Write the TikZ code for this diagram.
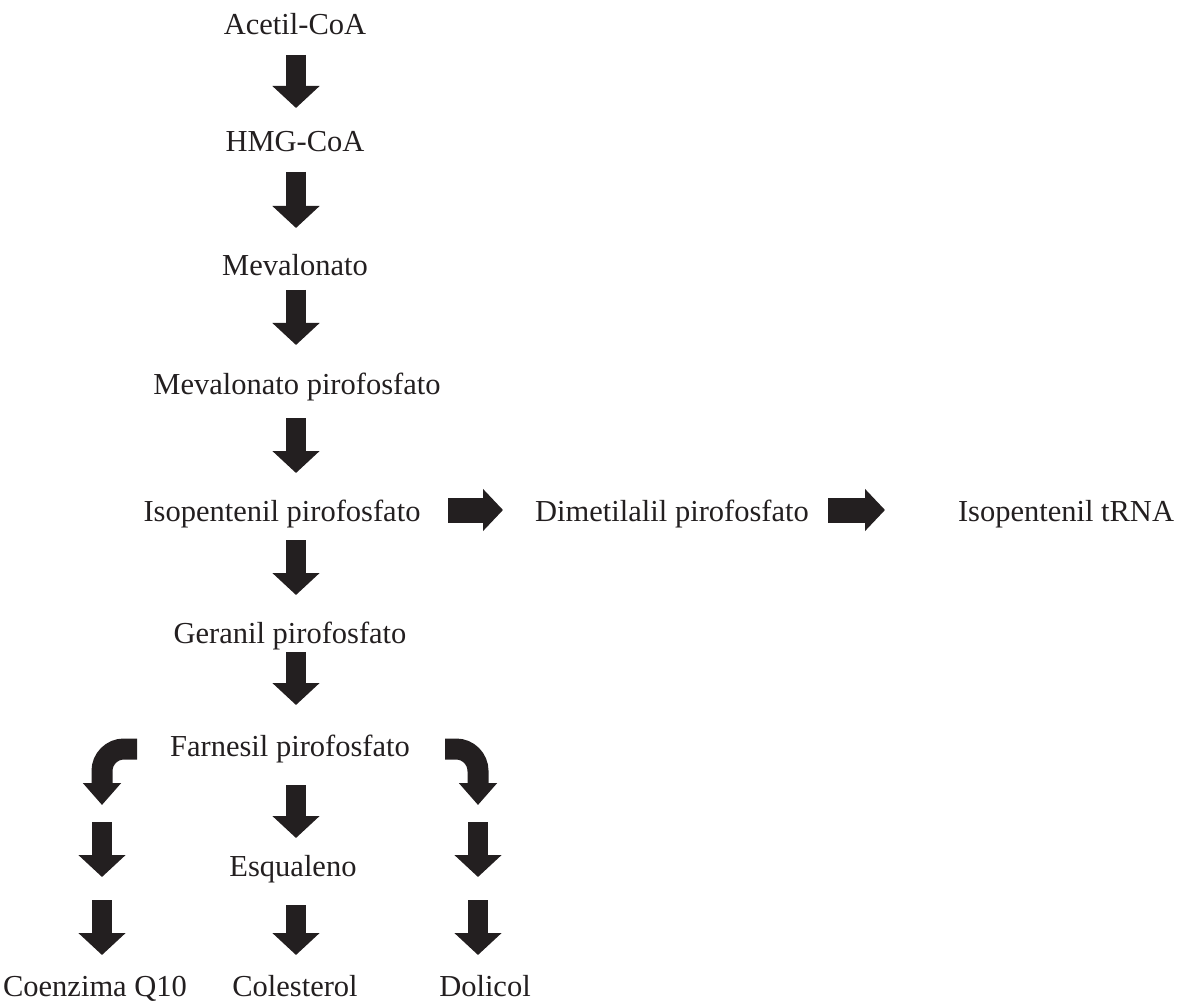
\documentclass[tikz,border=0pt]{standalone}
\usepackage{fontspec}
\setmainfont{Liberation Serif}
\usetikzlibrary{arrows.meta}
\definecolor{ink}{HTML}{231F20}
\begin{document}
\begin{tikzpicture}[x=1pt,y=-1pt,
  lbl/.style={anchor=base,inner sep=0pt,text=ink,font=\fontsize{30.5}{36}\selectfont},
  varrow/.style={draw=ink,line width=20pt,-{Triangle[width=46pt,length=22pt]}},
  harrow/.style={draw=ink,line width=25pt,-{Triangle[width=41pt,length=20pt]}},
  carrow/.style={draw=ink,line width=21pt,rounded corners=22pt,-{Triangle[width=37pt,length=22pt]}}]
\useasboundingbox (0,0) rectangle (1187,1003);
% labels
\node[lbl] (acetil) at (295,35) {Acetil-CoA};
\node[lbl] (hmg) at (295,152) {HMG-CoA};
\node[lbl] (meva) at (295,276) {Mevalonato};
\node[lbl] (mevapp) at (297,394) {Mevalonato pirofosfato};
\node[lbl] (isopp) at (282,521) {Isopentenil pirofosfato};
\node[lbl] (dimet) at (672,521) {Dimetilalil pirofosfato};
\node[lbl] (trna) at (1066,521) {Isopentenil tRNA};
\node[lbl] (geran) at (290,643) {Geranil pirofosfato};
\node[lbl] (farn) at (290,756) {Farnesil pirofosfato};
\node[lbl] (esq) at (293,876) {Esqualeno};
\node[lbl] (coq) at (95,996) {Coenzima Q10};
\node[lbl] (col) at (295,996) {Colesterol};
\node[lbl] (dol) at (485,996) {Dolicol};
% column coordinates
\coordinate (cm) at (296,0);
\coordinate (cl) at (102,0);
\coordinate (cr) at (478,0);
% main column arrows
\draw[varrow] (cm |- 0,55) -- (cm |- 0,108);
\draw[varrow] (cm |- 0,172) -- (cm |- 0,228);
\draw[varrow] (cm |- 0,290) -- (cm |- 0,345);
\draw[varrow] (cm |- 0,418) -- (cm |- 0,473);
\draw[varrow] (cm |- 0,540) -- (cm |- 0,595);
\draw[varrow] (cm |- 0,652) -- (cm |- 0,705);
\draw[varrow] (cm |- 0,785) -- (cm |- 0,838);
\draw[varrow] (cm |- 0,905) -- (cm |- 0,955);
% side columns
\draw[varrow] (cl |- 0,822) -- (cl |- 0,877);
\draw[varrow] (cl |- 0,900) -- (cl |- 0,955);
\draw[varrow] (cr |- 0,822) -- (cr |- 0,877);
\draw[varrow] (cr |- 0,900) -- (cr |- 0,955);
% curved arrows from farnesil
\draw[carrow] (137,749) -- (cl |- 0,749) -- (cl |- 0,805);
\draw[carrow] (445,749) -- (cr |- 0,749) -- (cr |- 0,805);
% horizontal arrows
\draw[harrow] (448,510) -- (503,510);
\draw[harrow] (828,510) -- (885,510);
\end{tikzpicture}
\end{document}
